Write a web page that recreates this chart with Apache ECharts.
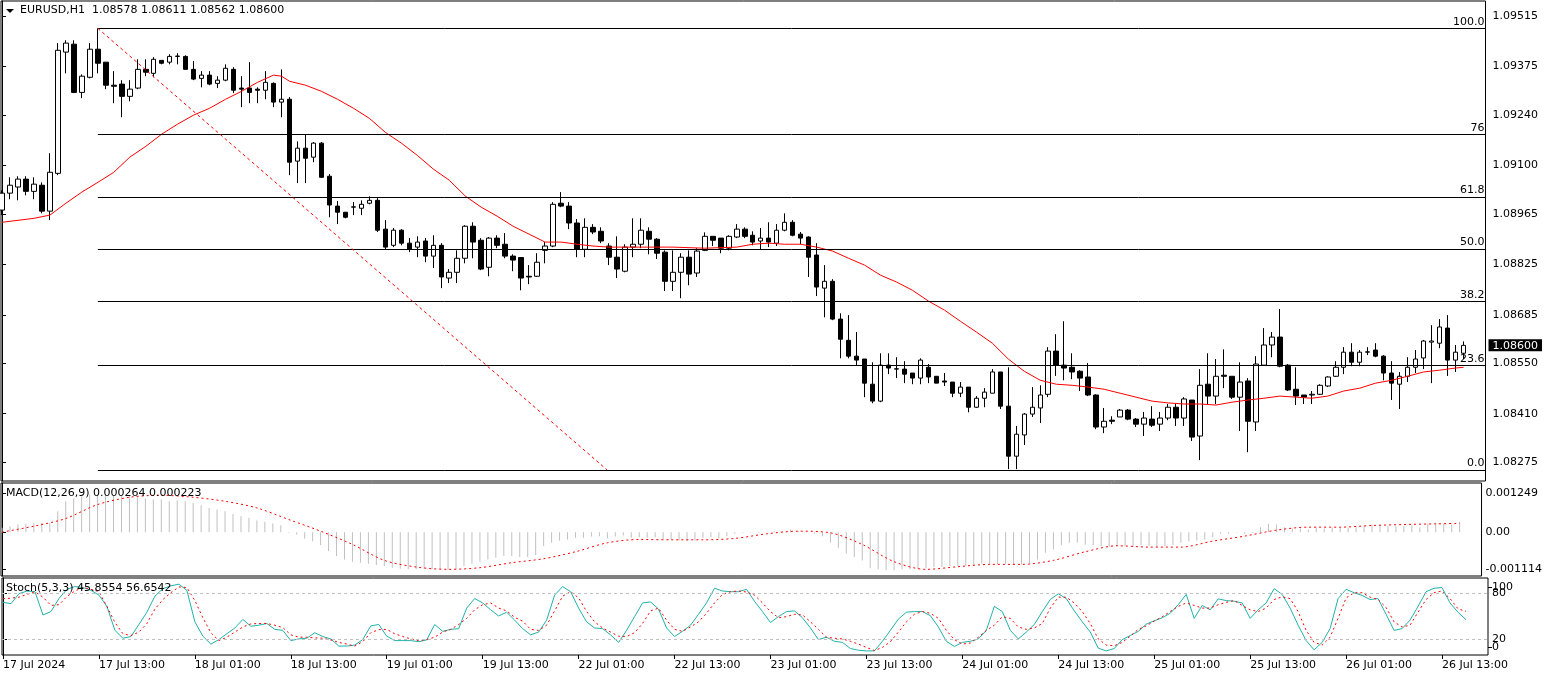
<!DOCTYPE html>
<html><head><meta charset="utf-8">
<script src="https://cdn.jsdelivr.net/npm/echarts@6/dist/echarts.min.js"></script>
<style>html,body{margin:0;padding:0;background:#fff;overflow:hidden}#c{width:1545px;height:676px}</style>
</head><body><div id="c"></div>
<script>
// ---------- DATA (EURUSD H1) ----------
const opens = [
1.08976,1.09023,1.09040,1.09062,1.09028,1.09045,1.08973,1.09078,1.09415,1.09437,1.09303,1.09345,
1.09423,1.09387,1.09323,1.09326,1.09292,1.09315,1.09367,1.09356,1.09392,1.09387,1.09403,1.09403,
1.09367,1.09342,1.09351,1.09328,1.09337,1.09367,1.09315,1.09315,1.09312,1.09309,1.09328,1.09276,
1.09284,1.09112,1.09148,1.09123,1.09162,1.09070,1.08987,1.08970,1.08984,1.08981,1.08995,1.09003,
1.08923,1.08878,1.08920,1.08884,1.08873,1.08890,1.08848,1.08878,1.08787,1.08803,1.08842,1.08931,
1.08892,1.08817,1.08898,1.08881,1.08848,1.08844,1.08792,1.08792,1.08864,1.08876,1.08995,1.08987,
1.08940,1.08867,1.08928,1.08917,1.08876,1.08845,1.08806,1.08873,1.08881,1.08917,1.08895,1.08859,
1.08778,1.08803,1.08845,1.08801,1.08864,1.08903,1.08898,1.08870,1.08901,1.08923,1.08906,1.08890,
1.08898,1.08884,1.08920,1.08942,1.08909,1.08901,1.08851,1.08759,1.08778,1.08673,1.08614,1.08570,
1.08562,1.08492,1.08445,1.08545,1.08534,1.08534,1.08523,1.08509,1.08539,1.08514,1.08501,1.08498,
1.08467,1.08484,1.08428,1.08453,1.08467,1.08526,1.08431,1.08292,1.08351,1.08409,1.08426,1.08464,
1.08584,1.08545,1.08539,1.08528,1.08512,1.08462,1.08373,1.08392,1.08401,1.08420,1.08395,1.08381,
1.08395,1.08381,1.08398,1.08428,1.08398,1.08448,1.08348,1.08492,1.08459,1.08517,1.08514,1.08456,
1.08501,1.08387,1.08545,1.08601,1.08623,1.08545,1.08478,1.08462,1.08462,1.08464,1.08487,1.08514,
1.08539,1.08581,1.08553,1.08581,1.08587,1.08570,1.08523,1.08492,1.08514,1.08539,1.08565,1.08609,
1.08606,1.08648,1.08559,1.08578];
const highs = [
1.09031,1.09067,1.09070,1.09070,1.09067,1.09053,1.09134,1.09440,1.09448,1.09448,1.09353,1.09440,
1.09481,1.09387,1.09362,1.09337,1.09337,1.09395,1.09395,1.09401,1.09392,1.09409,1.09412,1.09406,
1.09390,1.09362,1.09362,1.09348,1.09381,1.09373,1.09348,1.09387,1.09317,1.09362,1.09331,1.09367,
1.09290,1.09167,1.09187,1.09165,1.09165,1.09076,1.09001,1.08970,1.08998,1.09003,1.09014,1.09009,
1.08948,1.08926,1.08923,1.08898,1.08903,1.08898,1.08906,1.08884,1.08812,1.08864,1.08934,1.08942,
1.08898,1.08901,1.08906,1.08912,1.08853,1.08845,1.08823,1.08856,1.08887,1.08998,1.09026,1.08998,
1.08951,1.08953,1.08937,1.08928,1.08884,1.08903,1.08881,1.08953,1.08953,1.08928,1.08898,1.08864,
1.08864,1.08856,1.08864,1.08870,1.08914,1.08903,1.08898,1.08906,1.08937,1.08928,1.08917,1.08926,
1.08942,1.08937,1.08967,1.08948,1.08915,1.08903,1.08884,1.08823,1.08784,1.08689,1.08684,1.08637,
1.08562,1.08553,1.08578,1.08578,1.08567,1.08556,1.08523,1.08564,1.08548,1.08514,1.08523,1.08498,
1.08498,1.08484,1.08459,1.08481,1.08534,1.08526,1.08539,1.08376,1.08412,1.08484,1.08489,1.08595,
1.08631,1.08667,1.08578,1.08531,1.08551,1.08464,1.08426,1.08403,1.08423,1.08423,1.08398,1.08415,
1.08431,1.08415,1.08437,1.08437,1.08456,1.08448,1.08534,1.08578,1.08562,1.08589,1.08514,1.08553,
1.08509,1.08570,1.08648,1.08637,1.08701,1.08548,1.08539,1.08462,1.08473,1.08492,1.08514,1.08556,
1.08595,1.08606,1.08587,1.08595,1.08606,1.08573,1.08556,1.08526,1.08567,1.08587,1.08615,1.08656,
1.08673,1.08684,1.08601,1.08611];
const lows = [
1.08962,1.09006,1.09003,1.09017,1.09006,1.08967,1.08948,1.09073,1.09356,1.09301,1.09287,1.09342,
1.09356,1.09312,1.09273,1.09234,1.09278,1.09312,1.09348,1.09345,1.09381,1.09381,1.09381,1.09367,
1.09337,1.09317,1.09323,1.09315,1.09334,1.09301,1.09262,1.09273,1.09273,1.09284,1.09262,1.09234,
1.09073,1.09051,1.09051,1.09109,1.09065,1.08956,1.08937,1.08953,1.08962,1.08962,1.08992,1.08915,
1.08865,1.08873,1.08878,1.08859,1.08845,1.08831,1.08815,1.08759,1.08773,1.08773,1.08828,1.08842,
1.08809,1.08792,1.08870,1.08842,1.08806,1.08753,1.08770,1.08790,1.08828,1.08873,1.08984,1.08923,
1.08845,1.08845,1.08909,1.08884,1.08823,1.08787,1.08803,1.08845,1.08870,1.08853,1.08840,1.08751,
1.08751,1.08731,1.08767,1.08790,1.08862,1.08876,1.08856,1.08864,1.08898,1.08898,1.08878,1.08867,
1.08873,1.08876,1.08917,1.08903,1.08881,1.08790,1.08737,1.08678,1.08670,1.08564,1.08564,1.08545,
1.08456,1.08439,1.08442,1.08520,1.08509,1.08495,1.08492,1.08492,1.08495,1.08495,1.08487,1.08456,
1.08456,1.08414,1.08426,1.08428,1.08467,1.08423,1.08256,1.08256,1.08323,1.08401,1.08384,1.08456,
1.08515,1.08503,1.08506,1.08473,1.08459,1.08367,1.08356,1.08381,1.08401,1.08392,1.08373,1.08348,
1.08373,1.08362,1.08392,1.08376,1.08376,1.08334,1.08281,1.08437,1.08437,1.08481,1.08451,1.08362,
1.08303,1.08362,1.08545,1.08567,1.08539,1.08473,1.08434,1.08437,1.08437,1.08462,1.08484,1.08512,
1.08520,1.08542,1.08542,1.08573,1.08567,1.08503,1.08448,1.08423,1.08498,1.08523,1.08534,1.08495,
1.08592,1.08515,1.08526,1.08562];
const closes = [
1.09023,1.09045,1.09062,1.09028,1.09048,1.08973,1.09081,1.09420,1.09440,1.09303,1.09348,1.09423,
1.09384,1.09323,1.09320,1.09292,1.09312,1.09367,1.09359,1.09395,1.09384,1.09403,1.09404,1.09367,
1.09340,1.09351,1.09326,1.09337,1.09370,1.09309,1.09312,1.09303,1.09309,1.09331,1.09276,1.09284,
1.09109,1.09148,1.09120,1.09162,1.09067,1.08990,1.08970,1.08956,1.08985,1.08992,1.09003,1.08920,
1.08873,1.08920,1.08884,1.08867,1.08887,1.08848,1.08878,1.08790,1.08803,1.08842,1.08931,1.08887,
1.08812,1.08898,1.08878,1.08848,1.08837,1.08787,1.08790,1.08831,1.08876,1.08992,1.08987,1.08940,
1.08867,1.08928,1.08915,1.08890,1.08845,1.08812,1.08873,1.08881,1.08920,1.08895,1.08856,1.08778,
1.08803,1.08845,1.08798,1.08862,1.08903,1.08892,1.08870,1.08903,1.08923,1.08903,1.08887,1.08898,
1.08887,1.08920,1.08942,1.08906,1.08898,1.08845,1.08762,1.08778,1.08673,1.08617,1.08570,1.08559,
1.08495,1.08445,1.08545,1.08537,1.08535,1.08520,1.08509,1.08559,1.08512,1.08495,1.08498,1.08467,
1.08484,1.08428,1.08453,1.08470,1.08526,1.08431,1.08292,1.08353,1.08409,1.08428,1.08462,1.08584,
1.08545,1.08537,1.08526,1.08509,1.08462,1.08373,1.08389,1.08389,1.08420,1.08395,1.08381,1.08398,
1.08378,1.08398,1.08428,1.08398,1.08451,1.08345,1.08489,1.08459,1.08514,1.08514,1.08456,1.08498,
1.08389,1.08548,1.08601,1.08623,1.08542,1.08476,1.08459,1.08456,1.08464,1.08489,1.08512,1.08539,
1.08581,1.08553,1.08581,1.08582,1.08570,1.08523,1.08495,1.08514,1.08539,1.08562,1.08612,1.08612,
1.08651,1.08559,1.08581,1.08600];

// red moving average, read at these bar indices
const maIdx = [0,4,6,8,10,12,14,16,18,20,22,24,26,28,30,32,34,35,36,38,40,42,44,46,48,50,52,54,56,58,60,62,64,66,68,70,72,74,76,80,84,88,92,94,96,98,100,102,104,106,108,110,112,114,116,118,120,122,124,126,128,130,132,134,136,138,140,142,144,146,148,150,152,154,156,158,160,162,164,166,168,170,172,174,176,178,180,182,183];
const maVal = [1.08942,1.08953,1.08962,1.08995,1.09026,1.09053,1.09081,1.09123,1.09153,1.09187,1.09215,1.09240,1.09259,1.09284,1.09306,1.09331,1.09351,1.09348,1.09334,1.09323,1.09306,1.09284,1.09259,1.09231,1.09192,1.09162,1.09128,1.09090,1.09059,1.09015,1.08984,1.08959,1.08931,1.08909,1.08887,1.08887,1.08881,1.08876,1.08873,1.08873,1.08873,1.08870,1.08873,1.08881,1.08884,1.08881,1.08881,1.08873,1.08862,1.08842,1.08823,1.08795,1.08776,1.08753,1.08723,1.08698,1.08667,1.08637,1.08606,1.08562,1.08528,1.08503,1.08492,1.08489,1.08484,1.08478,1.08467,1.08456,1.08445,1.08440,1.08437,1.08437,1.08434,1.08442,1.08448,1.08453,1.08459,1.08456,1.08453,1.08459,1.08473,1.08481,1.08495,1.08503,1.08514,1.08526,1.08531,1.08537,1.08539];

// MACD main (histogram), one per bar
const macdMain = [
0.000110,0.000152,0.000194,0.000211,0.000228,0.000236,0.000236,0.000532,0.000785,0.000852,0.000912,0.000954,
0.000971,0.000954,0.000937,0.000912,0.000912,0.000886,0.000852,0.000827,0.000827,0.000785,0.000802,0.000785,
0.000743,0.000684,0.000616,0.000574,0.000532,0.000464,0.000405,0.000363,0.000295,0.000262,0.000219,0.000177,
-0.000017,-0.000059,-0.000160,-0.000228,-0.000329,-0.000481,-0.000608,-0.000692,-0.000751,-0.000776,-0.000802,-0.000836,
-0.000861,-0.000903,-0.000928,-0.000945,-0.000945,-0.000945,-0.000945,-0.000945,-0.000962,-0.000945,-0.000861,-0.000802,
-0.000751,-0.000692,-0.000650,-0.000608,-0.000608,-0.000633,-0.000633,-0.000582,-0.000354,-0.000270,-0.000211,-0.000186,
-0.000143,-0.000143,-0.000110,-0.000101,-0.000160,-0.000110,-0.000084,-0.000143,-0.000127,-0.000143,-0.000127,-0.000186,
-0.000186,-0.000211,-0.000228,-0.000211,-0.000143,-0.000127,-0.000160,-0.000101,-0.000042,-0.000017,-0.000017,-0.000017,
0.000008,0.000025,0.000025,0.000068,0.000025,0.000008,-0.000042,-0.000101,-0.000270,-0.000397,-0.000549,-0.000633,
-0.000717,-0.000920,-0.000945,-0.000971,-0.000971,-0.000945,-0.000945,-0.000945,-0.000920,-0.000886,-0.000886,-0.000861,
-0.000861,-0.000861,-0.000836,-0.000802,-0.000819,-0.000819,-0.000802,-0.000819,-0.000819,-0.000776,-0.000692,-0.000523,
-0.000439,-0.000329,-0.000270,-0.000270,-0.000312,-0.000329,-0.000354,-0.000380,-0.000354,-0.000354,-0.000380,-0.000329,
-0.000354,-0.000380,-0.000354,-0.000329,-0.000270,-0.000228,-0.000211,-0.000186,-0.000127,-0.000042,-0.000042,-0.000017,
-0.000042,-0.000017,0.000127,0.000211,0.000194,0.000127,0.000093,0.000093,0.000068,0.000110,0.000093,0.000110,
0.000127,0.000110,0.000127,0.000152,0.000194,0.000177,0.000152,0.000152,0.000152,0.000177,0.000127,0.000211,
0.000236,0.000211,0.000194,0.000264];
// MACD signal (red dotted), read at these bar indices
const sigIdx = [0,4,8,12,16,20,24,28,32,36,40,44,48,52,56,60,64,68,72,76,80,84,88,92,96,100,104,108,112,116,120,124,128,132,136,140,144,148,152,156,160,164,168,172,176,180,183];
const sigVal = [0.000000,0.000152,0.000346,0.000701,0.000886,0.000937,0.000886,0.000785,0.000616,0.000321,0.000025,-0.000312,-0.000717,-0.000886,-0.000945,-0.000903,-0.000776,-0.000675,-0.000498,-0.000270,-0.000186,-0.000194,-0.000194,-0.000160,-0.000042,0.000025,-0.000017,-0.000312,-0.000751,-0.000945,-0.000878,-0.000819,-0.000819,-0.000717,-0.000498,-0.000346,-0.000380,-0.000380,-0.000228,-0.000101,0.000051,0.000127,0.000127,0.000169,0.000194,0.000211,0.000223];

// Stochastic %K (teal) and %D (red dotted), one per bar
const stochK = [
68.4,66.7,79.6,83.1,82.2,52.0,56.4,73.3,85.3,88.9,87.6,84.0,
77.8,63.1,32.0,21.8,24.0,39.6,55.6,76.4,86.2,89.8,92.0,84.0,
43.1,24.4,14.2,20.0,27.6,35.1,46.2,37.3,38.7,40.9,33.3,32.0,
18.7,20.9,21.8,28.9,24.0,20.9,11.6,11.6,12.9,20.0,37.8,39.6,
24.4,18.7,18.7,18.7,17.3,19.6,39.6,30.7,33.3,34.2,60.9,73.3,
67.6,58.7,50.7,55.6,45.3,34.2,26.2,29.8,45.3,77.8,88.9,82.2,
60.9,43.1,35.1,34.2,26.2,16.4,32.0,49.8,67.6,68.9,59.6,35.1,
24.0,30.7,38.7,52.9,67.6,86.7,83.1,82.2,82.2,85.3,69.8,56.4,
42.2,49.8,56.4,57.3,48.4,35.1,20.0,23.1,17.8,16.4,8.4,6.2,
5.3,5.3,17.8,32.0,46.7,55.6,56.4,56.4,51.1,36.4,17.8,11.1,
16.4,17.8,20.9,32.0,63.1,56.4,32.0,20.9,29.8,39.6,56.4,72.0,
79.6,73.3,57.3,43.1,29.8,8.9,5.3,8.4,20.0,25.3,30.7,40.0,
44.4,48.4,54.2,65.3,78.7,47.6,64.4,58.7,72.9,70.7,69.8,67.6,
47.6,58.7,67.6,86.2,78.7,60.9,38.7,18.7,6.7,16.4,34.2,73.3,
85.3,80.9,77.3,72.0,73.3,52.9,32.0,34.2,45.3,63.1,82.2,86.7,
87.6,67.6,55.6,45.8554];
const stochD = [
73.3,73.8,75.1,78.7,82.2,75.1,64.4,65.3,76.0,83.1,87.6,85.3,
82.2,63.1,42.2,27.6,25.3,29.8,40.9,59.6,72.0,80.9,88.4,87.6,
70.7,48.4,28.9,18.7,23.1,29.8,36.4,40.4,40.9,40.9,38.7,35.6,
26.2,23.1,23.1,22.2,21.8,19.6,16.4,14.2,11.6,17.3,28.9,32.9,
33.3,27.6,24.0,20.9,18.7,20.0,23.1,29.8,33.3,39.6,47.6,58.7,
65.3,67.6,60.9,57.3,48.9,44.0,33.3,32.0,38.7,57.3,76.4,82.2,
74.2,56.4,43.1,35.1,29.8,24.4,24.0,28.9,40.9,57.3,60.9,45.3,
33.3,30.7,36.4,43.1,54.2,67.6,78.7,82.2,83.1,81.8,77.8,67.6,
56.4,48.4,49.8,52.9,52.0,43.1,33.3,23.1,21.8,20.9,17.8,14.2,
9.8,5.8,9.8,17.3,29.8,43.1,52.9,56.4,54.2,47.6,32.0,20.0,
14.2,15.6,23.1,32.0,38.7,49.8,47.6,36.4,33.3,35.1,40.9,60.9,
75.1,75.1,67.6,56.4,40.9,20.9,12.9,12.0,16.4,24.4,33.3,37.8,
44.0,49.8,56.4,63.1,67.6,64.4,60.9,60.9,65.3,68.4,70.7,64.4,
58.7,56.4,60.9,72.0,75.6,73.3,56.4,32.0,16.4,12.9,23.1,47.6,
74.2,80.9,80.9,75.1,72.0,61.8,43.1,36.4,38.7,55.6,72.0,80.9,
83.1,73.3,60.0,56.6542];

// time axis labels, one every 12 bars
const timeLabels = ["17 Jul 2024","17 Jul 13:00","18 Jul 01:00","18 Jul 13:00","19 Jul 01:00","19 Jul 13:00","22 Jul 01:00","22 Jul 13:00","23 Jul 01:00","23 Jul 13:00","24 Jul 01:00","24 Jul 13:00","25 Jul 01:00","25 Jul 13:00","26 Jul 01:00","26 Jul 13:00"];
const timeLabelIdx = [0,12,24,36,48,60,72,84,96,108,120,132,144,156,168,180];
// price scale labels
const priceTicks = [1.09515,1.09375,1.09240,1.09100,1.08965,1.08825,1.08685,1.08550,1.08410,1.08275];
const lastPrice = 1.08600;
const macdTickLabels = ["0.001249","0.00","-0.001114"];
const stochLevelLabels = ["80","20"];
const stochEdgeLabels = ["100","0"];
// Fibonacci retracement
const fibHigh = 1.09481, fibLow = 1.08254;
const fibStartIdx = 12, fibEndIdx = 75.75;
const fibLevels = [100, 76, 61.8, 50, 38.2, 23.6, 0];
const fibLabels = ["100.0", "76", "61.8", "50.0", "38.2", "23.6", "0.0"];

// ---------- CHART ----------
const FONT = 'DejaVu Sans';
const XMIN = -0.125, XMAX = 185.75;
const PMIN = 1.08223, PMAX = 1.09557;
const MMIN = -0.001114, MMAX = 0.001249;

const chart = echarts.init(document.getElementById('c'), null, {renderer: 'canvas'});
const candleData = opens.map((o, i) => [i, o, closes[i], lows[i], highs[i]]);
const maData = maIdx.map((x, k) => [x, maVal[k]]);
const macdData = macdMain.map((v, i) => [i, v]);
const sigData = sigIdx.map((x, k) => [x, sigVal[k]]);
const kData = stochK.map((v, i) => [i, v]);
const dData = stochD.map((v, i) => [i, v]);

const fibLines = fibLevels.map((lv, k) => {
  const p = fibLow + (fibHigh - fibLow) * lv / 100;
  return [{coord: [fibStartIdx, p], name: fibLabels[k]}, {coord: [XMAX, p]}];
});

const txt = {fontFamily: FONT, fontSize: 11, color: '#000', fontWeight: 'normal'};
const baseX = (g, showLabels) => ({
  type: 'value', gridIndex: g, min: XMIN, max: XMAX,
  axisLine: {show: false}, splitLine: {show: false},
  axisTick: showLabels ? {show: true, customValues: timeLabelIdx, length: 4, lineStyle: {color: '#000'}} : {show: false},
  axisLabel: showLabels ? {
    show: true, customValues: timeLabelIdx, fontFamily: FONT, fontSize: 11, color: '#000', align: 'left', margin: 5,
    formatter: v => timeLabels[timeLabelIdx.indexOf(Math.round(v))] || ''
  } : {show: false}
});

const macdRange = MMAX - MMIN;
const macdTickPos = [MMAX - macdRange * 0.107, 0, MMIN + macdRange * 0.075];
const stochLevelPos = [80, 20];
const stochEdgePos = [88.5, 10.5];

const option = {
  animation: false,
  backgroundColor: '#fff',
  title: [
    {text: 'EURUSD,H1  1.08578 1.08611 1.08562 1.08600', left: 20, top: 5, padding: 0, textStyle: txt},
    {text: 'MACD(12,26,9) 0.000264 0.000223', left: 6, top: 488, padding: 0, textStyle: txt},
    {text: 'Stoch(5,3,3) 45.8554 56.6542', left: 6, top: 583, padding: 0, textStyle: txt}
  ],
  graphic: [{type: 'polygon', shape: {points: [[6, 9], [14, 9], [10, 13]]}, style: {fill: '#000'}}],
  grid: [
    {left: 1, width: 1487, top: 1, height: 480, show: true, borderColor: '#000', borderWidth: 1, backgroundColor: '#fff'},
    {left: 1, width: 1487, top: 483, height: 93, show: true, borderColor: '#000', borderWidth: 1, backgroundColor: '#fff'},
    {left: 1, width: 1487, top: 578, height: 77, show: true, borderColor: '#000', borderWidth: 1, backgroundColor: '#fff'}
  ],
  xAxis: [baseX(0, false), baseX(1, false), baseX(2, true)],
  yAxis: [
    {type: 'value', gridIndex: 0, position: 'right', min: PMIN, max: PMAX, scale: true,
     axisLine: {show: true, lineStyle: {color: '#000'}}, splitLine: {show: false},
     axisTick: {show: true, customValues: priceTicks, length: 4, lineStyle: {color: '#000'}},
     axisLabel: {show: true, customValues: priceTicks.concat([lastPrice]), margin: 3, hideOverlap: false,
       formatter: v => Math.abs(v - lastPrice) < 1e-7 ? '{cur|' + v.toFixed(5) + '}' : '{n|' + v.toFixed(5) + '}',
       rich: {
         n: {fontFamily: FONT, fontSize: 11, color: '#000', padding: [0, 4, 0, 4]},
         cur: {fontFamily: FONT, fontSize: 11, color: '#fff', backgroundColor: '#000', padding: [1, 4, 0, 4]}
       }}},
    {type: 'value', gridIndex: 1, position: 'right', min: MMIN, max: MMAX,
     axisLine: {show: true, lineStyle: {color: '#000'}}, splitLine: {show: false},
     axisTick: {show: true, customValues: macdTickPos, length: 4, lineStyle: {color: '#000'}},
     axisLabel: {show: true, customValues: macdTickPos, margin: 4, fontFamily: FONT, fontSize: 11, color: '#000',
       formatter: v => { const k = macdTickPos.findIndex(t => Math.abs(t - v) < 1e-9); return k >= 0 ? macdTickLabels[k] : ''; }}},
    {type: 'value', gridIndex: 2, position: 'right', min: 0, max: 100,
     axisLine: {show: true, lineStyle: {color: '#000'}}, splitLine: {show: false},
     axisTick: {show: true, customValues: stochLevelPos, length: 4, lineStyle: {color: '#000'}},
     axisLabel: {show: true, customValues: stochLevelPos, margin: 4, fontFamily: FONT, fontSize: 11, color: '#000',
       formatter: v => { const k = stochLevelPos.findIndex(t => Math.abs(t - v) < 1e-6); return k >= 0 ? stochLevelLabels[k] : ''; }}},
    {type: 'value', gridIndex: 2, position: 'right', min: 0, max: 100,
     axisLine: {show: false}, splitLine: {show: false},
     axisTick: {show: true, customValues: stochEdgePos, length: 4, lineStyle: {color: '#000'}},
     axisLabel: {show: true, customValues: stochEdgePos, margin: 4, fontFamily: FONT, fontSize: 11, color: '#000', hideOverlap: false,
       formatter: v => { const k = stochEdgePos.findIndex(t => Math.abs(t - v) < 1e-6); return k >= 0 ? stochEdgeLabels[k] : ''; }}}
  ],
  series: [
    {type: 'candlestick', xAxisIndex: 0, yAxisIndex: 0, data: candleData,
     encode: {x: 0, y: [1, 2, 3, 4]}, barWidth: 5,
     itemStyle: {color: '#fff', color0: '#000', borderColor: '#000', borderColor0: '#000', borderColorDoji: '#000', borderWidth: 1},
     markLine: {silent: true, symbol: ['none', 'none'], animation: false,
       data: fibLines.concat([[
         {coord: [fibStartIdx, fibHigh], lineStyle: {color: '#ff0000', type: [3, 3], width: 1}, label: {show: false}},
         {coord: [fibEndIdx, fibLow]}
       ]]),
       lineStyle: {color: '#000', type: 'solid', width: 1},
       label: {show: true, position: 'insideEndTop', formatter: '{b}', distance: [1, 1], fontFamily: FONT, fontSize: 11, color: '#000'},
       emphasis: {disabled: true}}},
    {type: 'line', xAxisIndex: 0, yAxisIndex: 0, data: maData, showSymbol: false, symbol: 'none',
     lineStyle: {color: '#ff0000', width: 1}, z: 3},
    {type: 'bar', xAxisIndex: 1, yAxisIndex: 1, data: macdData, barWidth: 1, itemStyle: {color: '#c0c0c0'}},
    {type: 'line', xAxisIndex: 1, yAxisIndex: 1, data: sigData, symbol: 'none', smooth: 0.3,
     lineStyle: {color: '#ff0000', width: 1, type: [2, 3]}},
    {type: 'line', xAxisIndex: 2, yAxisIndex: 2, data: kData, symbol: 'none',
     lineStyle: {color: '#20b2aa', width: 1},
     markLine: {silent: true, symbol: ['none', 'none'], label: {show: false},
       lineStyle: {color: '#c0c0c0', type: [3, 3], width: 1}, data: [{yAxis: 80}, {yAxis: 20}]}},
    {type: 'line', xAxisIndex: 2, yAxisIndex: 2, data: dData, symbol: 'none',
     lineStyle: {color: '#ff0000', width: 1, type: [2, 3]}}
  ]
};
chart.setOption(option);
</script>
</body></html>
